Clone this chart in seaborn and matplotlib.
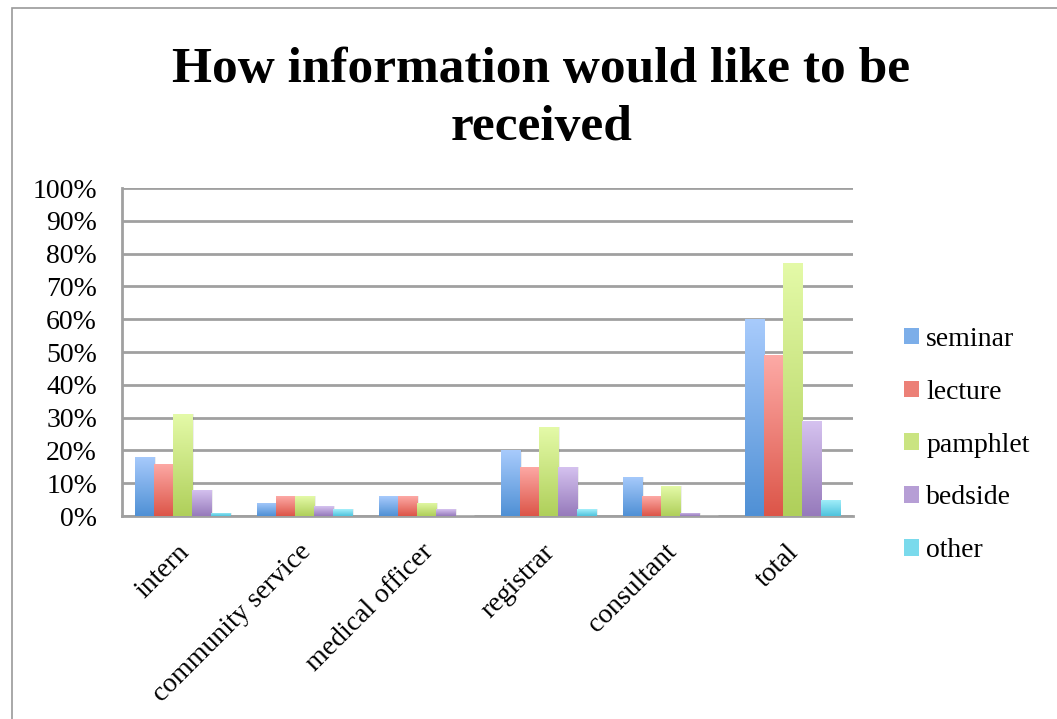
import numpy as np
import pandas as pd
import matplotlib
matplotlib.use("Agg")
import matplotlib.pyplot as plt
import matplotlib.colors as mcolors
import matplotlib.transforms as mtransforms
from matplotlib.patches import Patch, Rectangle
import seaborn as sns

# Survey data: percentage of respondents preferring each channel
categories = ["intern", "community service", "medical officer", "registrar", "consultant", "total"]
methods = ["seminar", "lecture", "pamphlet", "bedside", "other"]
seminar = [18, 4, 6, 20, 12, 60]
lecture = [16, 6, 6, 15, 6, 49]
pamphlet = [31, 6, 4, 27, 9, 77]
bedside = [8, 3, 2, 15, 1, 29]
other = [1, 2, 0, 2, 0, 5]
yticks = list(range(0, 101, 10))

# (top, bottom) gradient colours per series
gradients = {
    "seminar": ("#a8cbfc", "#4f90d5"),
    "lecture": ("#fdaaa6", "#dc5548"),
    "pamphlet": ("#e4faa8", "#afcf5a"),
    "bedside": ("#d6c3f0", "#967abb"),
    "other": ("#a6f0fb", "#4ec3dd"),
}

series = [seminar, lecture, pamphlet, bedside, other]
df = pd.DataFrame({
    "role": np.tile(categories, len(methods)),
    "method": np.repeat(methods, len(categories)),
    "value": np.concatenate(series),
})

sns.set_style("white")
plt.rcParams["font.family"] = ["Liberation Serif", "DejaVu Serif"]
plt.rcParams["text.color"] = "black"
plt.rcParams["xtick.color"] = "black"
plt.rcParams["ytick.color"] = "black"

fig = plt.figure(figsize=(10.57, 7.19), dpi=100)
ax = fig.add_axes([122 / 1057, 1 - 516 / 719, (853 - 122) / 1057, (516 - 188) / 719])

mid_colors = [mcolors.to_hex(np.mean([mcolors.to_rgb(c) for c in gradients[m]], axis=0)) for m in methods]
sns.barplot(data=df, x="role", y="value", hue="method", order=categories,
            hue_order=methods, palette=mid_colors, width=0.78, gap=0,
            legend=False, ax=ax, zorder=3)

# Replace the flat fills with vertical gradients clipped to each bar
grad = np.linspace(0, 1, 256).reshape(-1, 1)
for container, m in zip(ax.containers, methods):
    top, bottom = gradients[m]
    cmap = mcolors.LinearSegmentedColormap.from_list(m, [bottom, top])
    for bar in container:
        x, w, h = bar.get_x(), bar.get_width(), bar.get_height()
        if h <= 0:
            continue
        bar.set_facecolor("none")
        bar.set_edgecolor("none")
        # soft drop shadow on the right side
        ax.add_patch(Rectangle((x + 0.015, 0), w, h, facecolor="#000000",
                               alpha=0.07, edgecolor="none", zorder=2))
        im = ax.imshow(grad, extent=[x, x + w, 0, h], origin="lower", cmap=cmap,
                       aspect="auto", zorder=3, interpolation="bilinear")
        im.set_clip_path(bar)

ax.set_xlim(-0.5, len(categories) - 0.5)
ax.set_ylim(0, 100)

grid_c = "#a0a0a0"
ax.set_yticks(yticks)
ax.set_yticklabels([f"{t}%" for t in yticks])
ax.yaxis.grid(True, color=grid_c, linewidth=2, zorder=0)
ax.xaxis.grid(False)
ax.set_axisbelow(True)

# Boundary tick marks between groups, labels centred under groups
ax.set_xticks(np.arange(-0.5, len(categories), 1))
ax.set_xticklabels([])
ax.set_xticks(np.arange(len(categories)), minor=True)
ax.set_xticklabels(categories, minor=True, rotation=45, ha="right",
                   rotation_mode="anchor", fontsize=20)
ax.tick_params(axis="x", which="major", direction="out", length=8, width=2, color=grid_c)
ax.tick_params(axis="x", which="minor", length=0, pad=17)
ax.tick_params(axis="y", direction="out", length=7, width=2, color=grid_c, labelsize=20, pad=11)

shift = mtransforms.ScaledTranslation(-6 / 100, 0, fig.dpi_scale_trans)
for lbl in ax.get_xticklabels(minor=True):
    lbl.set_transform(lbl.get_transform() + shift)

for side in ["top", "right"]:
    ax.spines[side].set_visible(False)
for side in ["left", "bottom"]:
    ax.spines[side].set_color(grid_c)
    ax.spines[side].set_linewidth(2)

ax.set_xlabel("")
ax.set_ylabel("")

fig.text(0.512, 1 - 99 / 719, "How information would like to be\nreceived",
         ha="center", va="center", fontsize=37, fontweight="bold", linespacing=1.32)

handles = [Patch(facecolor=c, edgecolor="none") for c in mid_colors]
fig.legend(handles, methods, loc="center left", bbox_to_anchor=(904 / 1057, 1 - 445 / 719),
           frameon=False, fontsize=20, handlelength=0.55, handleheight=0.55,
           handletextpad=0.25, labelspacing=1.0, borderaxespad=0, borderpad=0)

# Chart frame
fig.patches.append(Rectangle((12 / 1057, -0.1), 1.2, 1 - 8 / 719 + 0.1, transform=fig.transFigure,
                             facecolor="none", edgecolor="#9a9a9a", linewidth=1.2))

fig.savefig("out.png", dpi=100)
